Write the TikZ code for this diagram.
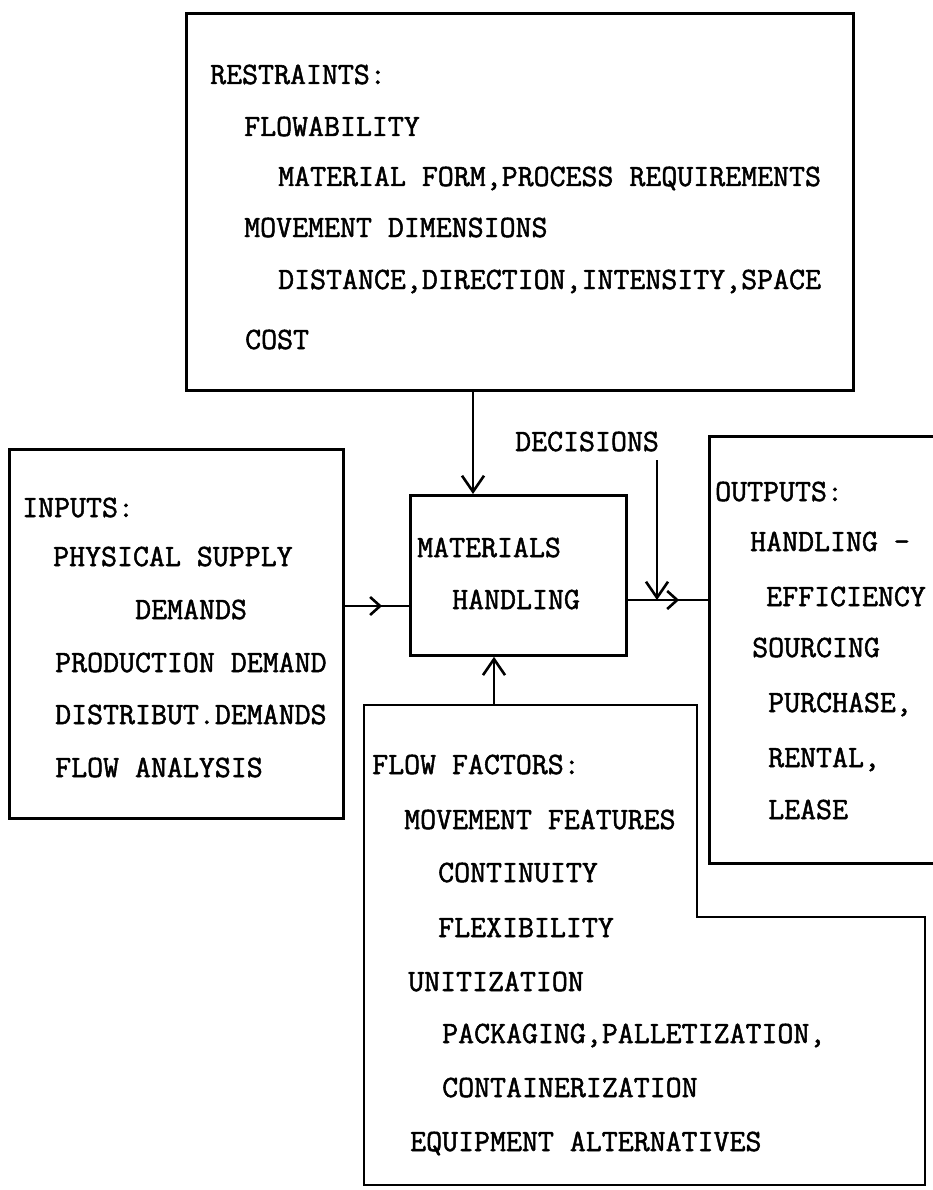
\documentclass[tikz,border=0pt]{standalone}
\usepackage{fontspec}
\newfontfamily\typewriter{Latin Modern Mono}[FakeBold=1.6]
\usetikzlibrary{arrows.meta,decorations.markings}
\begin{document}
\begin{tikzpicture}[x=1pt,y=-1pt,
  box/.style={draw, line width=2.8pt, inner sep=0pt, anchor=north west},
  txt/.style={anchor=base west, inner sep=0pt, font=\fontsize{31}{31}\selectfont\typewriter},
  link/.style={line width=2.6pt, -{Straight Barb[length=16pt,width=22pt,line width=2.6pt]}},
  chev/.style={line width=2.6pt, decoration={markings,
      mark=at position #1 with {\arrow{Straight Barb[length=10pt,width=18pt,line width=2.6pt]}}},
      postaction={decorate}}
]
\useasboundingbox (0,0) rectangle (932,1190);

% restraints box
\node[box, minimum width=667pt, minimum height=377pt] (rest) at (185,12) {};
\node[txt] (r1) at (210,84) {RESTRAINTS:};
\node[txt] (r2) at (244,136) {FLOWABILITY};
\node[txt] (r3) at (278,186) {MATERIAL FORM,PROCESS REQUIREMENTS};
\node[txt] (r4) at (244,237) {MOVEMENT DIMENSIONS};
\node[txt] (r5) at (278,289) {DISTANCE,DIRECTION,INTENSITY,SPACE};
\node[txt] (r6) at (245,349) {COST};

% inputs box
\node[box, minimum width=334pt, minimum height=369pt] (inp) at (8,448) {};
\node[txt] (i1) at (22,517) {INPUTS:};
\node[txt] (i2) at (53,566) {PHYSICAL SUPPLY};
\node[txt] (i3) at (135,619) {DEMANDS};
\node[txt] (i4) at (55,672) {PRODUCTION DEMAND};
\node[txt] (i5) at (55,724) {DISTRIBUT.DEMANDS};
\node[txt] (i6) at (55,777) {FLOW ANALYSIS};

% materials handling box
\node[box, minimum width=216pt, minimum height=160pt] (mh) at (409,494) {};
\node[txt] (m1) at (417,557) {MATERIALS};
\node[txt] (m2) at (452,609) {HANDLING};

% decisions label
\node[txt] (dec) at (515,451) {DECISIONS};

% outputs box (runs off the right edge)
\node[box, minimum width=240pt, minimum height=427pt] (out) at (708,435) {};
\node[txt] (o1) at (715,501) {OUTPUTS:};
\node[txt] (o2) at (750,551) {HANDLING -};
\node[txt] (o3) at (766,606) {EFFICIENCY};
\node[txt] (o4) at (752,657) {SOURCING};
\node[txt] (o5) at (768,712) {PURCHASE,};
\node[txt] (o6) at (768,767) {RENTAL,};
\node[txt] (o7) at (768,819) {LEASE};

% flow factors box (stepped outline)
\coordinate (f1) at (364,705);
\coordinate (f2) at (697,705);
\coordinate (f3) at (697,917);
\coordinate (f4) at (925,917);
\coordinate (f5) at (925,1185);
\coordinate (f6) at (364,1185);
\draw[line width=2.8pt] (f1) -- (f2) -- (f3) -- (f4) -- (f5) -- (f6) -- cycle;
\node[txt] (ff1) at (372,774) {FLOW FACTORS:};
\node[txt] (ff2) at (404,829) {MOVEMENT FEATURES};
\node[txt] (ff3) at (438,882) {CONTINUITY};
\node[txt] (ff4) at (438,937) {FLEXIBILITY};
\node[txt] (ff5) at (408,991) {UNITIZATION};
\node[txt] (ff6) at (442,1043) {PACKAGING,PALLETIZATION,};
\node[txt] (ff7) at (442,1097) {CONTAINERIZATION};
\node[txt] (ff8) at (410,1151) {EQUIPMENT ALTERNATIVES};

% connectors
\coordinate (xa) at (473,0);
\coordinate (xb) at (494,0);
\coordinate (yin) at (0,606);
\coordinate (yout) at (0,600);
\coordinate (d0) at (657,460);

\draw[link] (rest.south -| xa) -- (mh.north -| xa);
\draw[link] (f1 -| xb) -- (mh.south -| xb);
\draw[chev=0.58] (inp.east |- yin) -- (mh.west |- yin);
\draw[chev=0.64] (mh.east |- yout) -- (out.west |- yout);
\draw[link] (d0) -- (d0 |- yout);
\end{tikzpicture}
\end{document}
